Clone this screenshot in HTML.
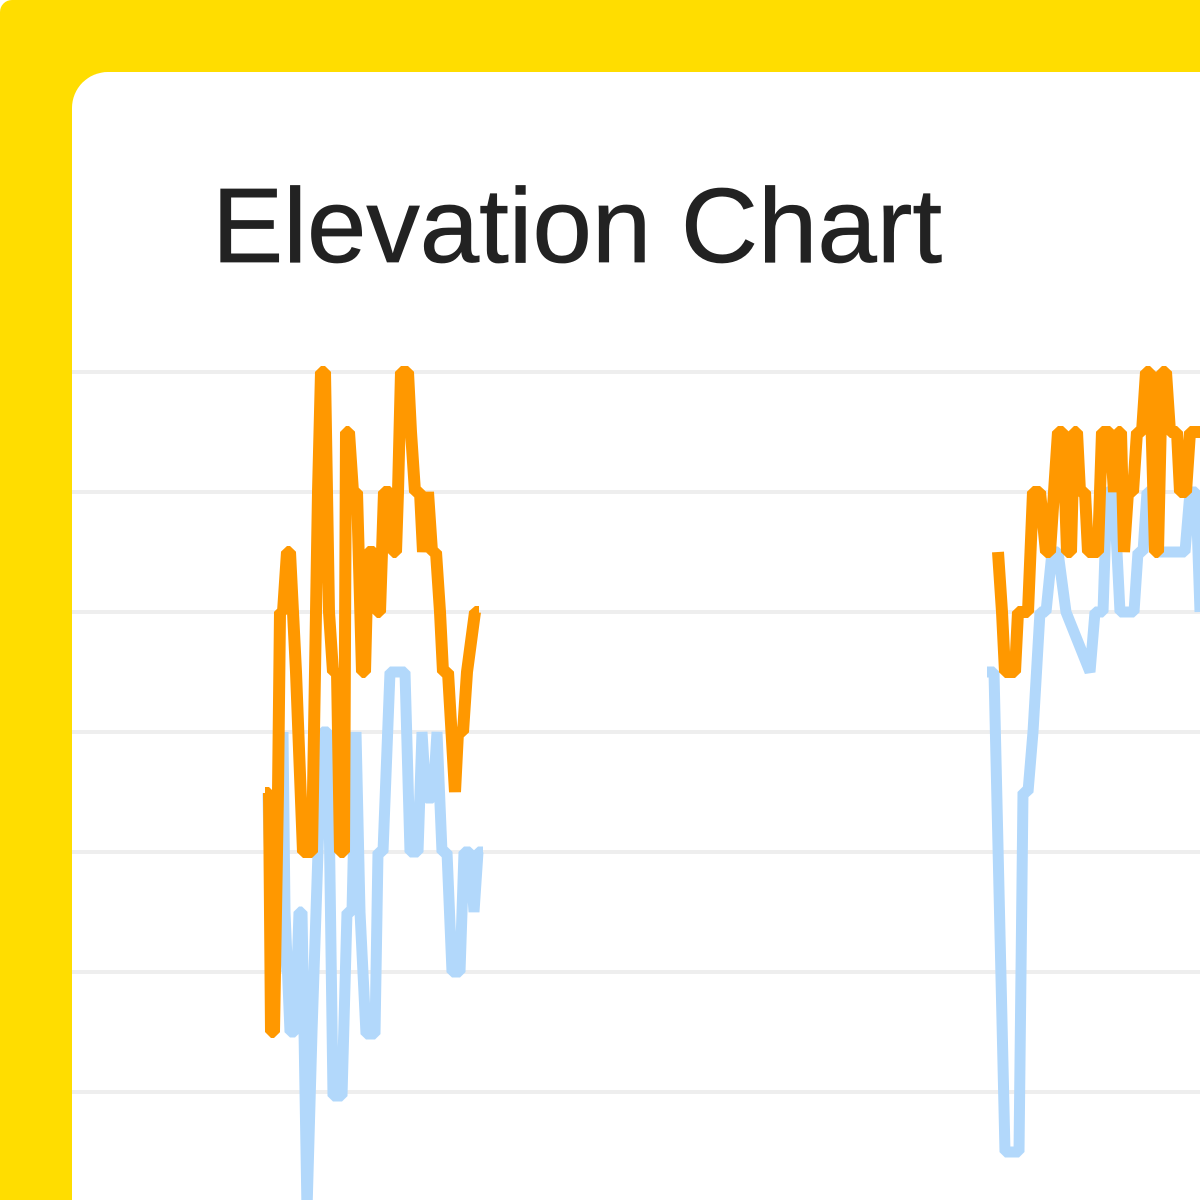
<!DOCTYPE html>
<html>
<head>
<meta charset="utf-8">
<style>
html,body{margin:0;padding:0;width:1200px;height:1200px;overflow:hidden;background:#ffffff;}
#frame{position:absolute;left:0;top:0;width:1200px;height:1200px;background:#FFDD00;border-top-left-radius:12px;}
#panel{position:absolute;left:72px;top:72px;width:1128px;height:1128px;background:#ffffff;border-top-left-radius:36px;}
svg{position:absolute;left:0;top:0;}
</style>
</head>
<body>
<div id="frame"></div>
<div id="panel"></div>
<svg width="1200" height="1200" viewBox="0 0 1200 1200" xmlns="http://www.w3.org/2000/svg">
  <text x="212" y="262" font-family="'Liberation Sans', sans-serif" font-size="106" fill="#222222" stroke="#222222" stroke-width="0.8" textLength="730" lengthAdjust="spacingAndGlyphs">Elevation Chart</text>
  <g stroke="#EEEEEE" stroke-width="4">
    <line x1="72" y1="372" x2="1200" y2="372"/>
    <line x1="72" y1="492" x2="1200" y2="492"/>
    <line x1="72" y1="612" x2="1200" y2="612"/>
    <line x1="72" y1="732" x2="1200" y2="732"/>
    <line x1="72" y1="852" x2="1200" y2="852"/>
    <line x1="72" y1="972" x2="1200" y2="972"/>
    <line x1="72" y1="1092" x2="1200" y2="1092"/>
  </g>
  <g fill="none" stroke="#B2D8FB" stroke-width="11" stroke-linejoin="bevel" stroke-linecap="butt">
    <polyline points="265,793 268,793 271,960 276,972 283,732 285,912 290,1032 295,1032 299,912 302,912 307,1210 312,1032 318,852 322,732 328,732 333,1096 342,1096 347,912 352,912 356,732 360,912 366,1034 375,1034 378,852 383,852 390,672 405,672 410,852 418,852 422,732 426,798 433,798 437,732 442,852 447,852 452,972 460,972 464,852 470,852 474,912 478,852 483,852"/>
    <polyline points="987,672 994,672 1005,1152 1019,1152 1023,792 1028,792 1033,732 1040,612 1046,612 1052,552 1058,552 1066,612 1090,672 1095,612 1103,612 1107,492 1114,492 1120,612 1134,612 1138,552 1143,552 1147,492 1152,492 1157,552 1185,552 1190,492 1196,492 1200,612"/>
  </g>
  <g fill="none" stroke="#FF9800" stroke-width="12" stroke-linejoin="bevel" stroke-linecap="butt">
    <polyline points="265,793 269,793 271,1032 274,1032 278,792 280,612 283,612 287,552 290,552 296,672 303,852 312,852 318,492 321,372 325,372 329,612 333,672 337,672 340,852 344,852 346,432 349,432 353,492 357,492 362,672 365,672 368,552 374,552 377,612 380,612 384,492 390,492 393,552 396,552 398,492 401,372 408,372 411,432 415,492 420,492 423,552 428,492 432,552 436,552 440,612 443,672 448,672 455,792 458,732 463,732 467,672 475,612 479,612"/>
    <polyline points="998,552 1002,612 1005,672 1015,672 1018,612 1028,612 1033,492 1040,492 1046,552 1050,552 1054,492 1058,432 1063,432 1067,552 1071,552 1074,432 1077,432 1080,492 1085,492 1088,552 1098,552 1102,432 1110,432 1114,492 1118,432 1121,432 1124,552 1128,492 1133,492 1137,432 1142,432 1146,372 1150,372 1155,552 1158,552 1162,372 1166,372 1170,432 1177,432 1180,492 1186,492 1190,432 1200,432"/>
  </g>
</svg>
</body>
</html>
